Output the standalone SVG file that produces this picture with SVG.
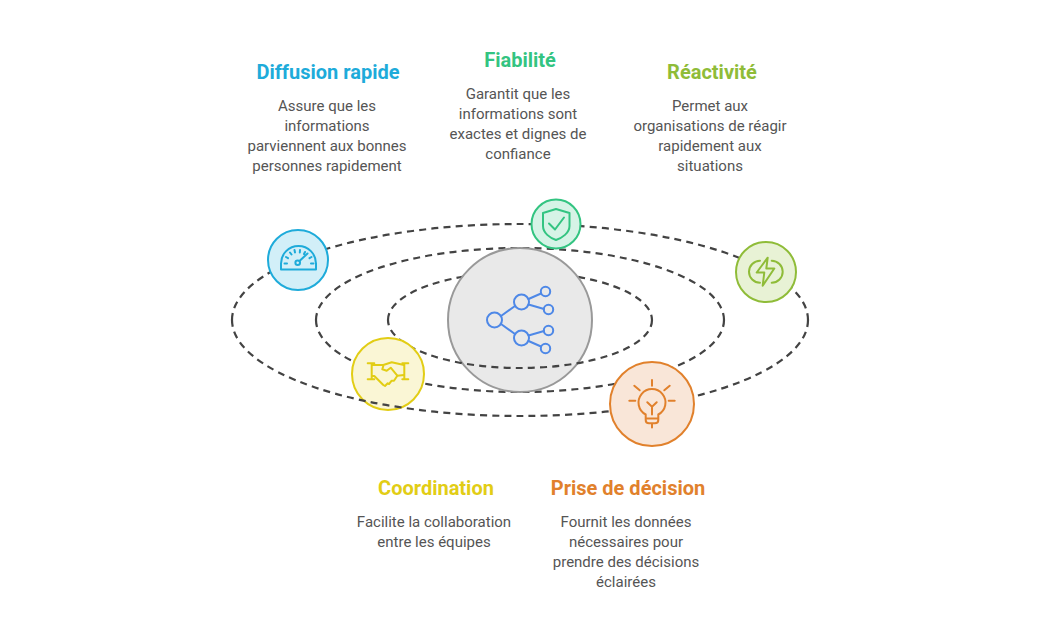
<svg xmlns="http://www.w3.org/2000/svg" width="1040" height="640" viewBox="0 0 1040 640">
<style>
text{font-family:Roboto,"Liberation Sans",sans-serif;text-anchor:middle}
.t{font-size:20px;font-weight:700}
.b{font-size:15px;fill:#555}
.c{fill:none;stroke:#434343;stroke-width:2.200;stroke-dasharray:7 5.200}
.i{fill:none;stroke-width:2;stroke-linecap:round;stroke-linejoin:round}
.n{stroke-width:2}
</style>
<rect width="1040" height="640" fill="#fff"/>
<g id="connectors-back">
<path class="c" d="M232 320A288 96 0 0 1 808 320"/>
<path class="c" d="M316 320A204 72 0 0 1 724 320"/>
<path class="c" d="M388 320A132 48 0 0 1 652 320"/>
<path class="c" d="M724 320A204 72 0 0 1 316 320"/>
</g>
<g id="node-center">
<circle cx="520" cy="320" r="72" fill="#e9e9e9" stroke="#999" stroke-width="2"/>
<g class="i" stroke="#4e88e7">
<circle cx="494.5" cy="320" r="7.5"/><circle cx="521.5" cy="302" r="7.5"/><circle cx="521.5" cy="338" r="7.5"/>
<circle cx="545.5" cy="291.5" r="4.7"/><circle cx="548.5" cy="309.5" r="4.7"/><circle cx="548.5" cy="330.5" r="4.7"/><circle cx="545.5" cy="348.5" r="4.7"/>
<path d="M501 316L515 306M501 324L515 334M528.500 299L541 293.500M528.500 304.500L544 309M528.500 335.500L544 331M528.500 341L541 346.500"/>
</g>
</g>
<g id="connectors-front">
<path class="c" d="M652 320A132 48 0 0 1 388 320"/>
</g>
<g id="node-coordination">
<circle class="n" cx="388" cy="374" r="36" fill="#faf6d5" stroke="#e2cd15"/>
<g class="i" stroke="#e2cd15">
<path d="M367.700 363.300H374.300M371.700 363.300V379.300M367.700 379.300H374.300M402.300 363.300H408.300M404.300 363.300V379.300M402.300 379.300H408.300"/>
<path d="M372 365H383.300L391.700 362.300L404 365M383.300 366L382.300 369.300L386.700 370.700L390.700 367.700L397.300 375.700"/>
<path d="M372 376H374.300L383.300 385L385 386L387.700 383.300L389 384L391.700 380.700H394L397.300 375.700L404 375"/>
</g>
</g>
<g id="connectors-outer-front">
<path class="c" d="M808 320A288 96 0 0 1 232 320"/>
</g>
<g id="node-diffusion">
<circle class="n" cx="298" cy="260" r="30" fill="#d2eff8" stroke="#1eabda"/>
<g class="i" stroke="#1eabda">
<path d="M281 269.500V263.500A17.500 17.500 0 0 1 316 263.500V269.500Z"/>
<circle cx="297.700" cy="262.700" r="2.300"/>
<path d="M299.500 261L307.500 253.500M284.500 263.500H287M311 263.500H313.500M286 257L288 258.200M309.500 258.200L311.500 257M290 252.500L291.500 254.500M294.500 250L295 252.500M300 250L299.800 252.500M305 252L304 254"/>
</g>
</g>
<g id="node-fiabilite">
<circle class="n" cx="556" cy="224" r="24.500" fill="#d6f3e6" stroke="#33c481"/>
<g class="i" stroke="#33c481">
<path d="M556 209L543 213V226C543 233 550 238 556 240C562 238 569.500 233 569.500 226V213Z"/>
<path d="M549 223.500L555 229.500L564 217.500"/>
</g>
</g>
<g id="node-reactivite">
<circle class="n" cx="766" cy="272" r="30" fill="#e8f2d5" stroke="#8fbc38"/>
<g class="i" stroke="#8fbc38">
<path d="M767.700 257.700L756.700 272.500H764.300L762.700 285.700L774.300 268.500H766.300Z"/>
<path d="M760 260.700A11 11 0 0 0 760 282.700M771.700 260.700A11 11 0 0 1 771.700 282.700"/>
</g>
</g>
<g id="node-decision">
<circle class="n" cx="652" cy="404" r="42" fill="#f9e6d8" stroke="#e1812c"/>
<g class="i" stroke="#e1812c">
<path d="M645.700 414.500A13.500 13.500 0 1 1 658.300 414.500V420C658.300 422 657 423.300 655 423.300H649C647 423.300 645.700 422 645.700 420ZM645.700 418.500H658.300M652 414.500V406.700M647.300 402.300L652 406.700L656.700 402.300M652 423.300V427.500"/>
<path d="M652 380V385.700M634.300 385.700L639.700 390.300M669.700 385.700L664.300 390.300M629.300 400.700H635.300M668.700 400.700H674.700"/>
</g>
</g>
<g id="label-diffusion">
<text class="t" x="328" y="79" fill="#1eabda">Diffusion rapide</text>
<text class="b" x="327" y="111">Assure que les</text><text class="b" x="327" y="131">informations</text><text class="b" x="327" y="151">parviennent aux bonnes</text><text class="b" x="327" y="171">personnes rapidement</text>
</g>
<g id="label-fiabilite">
<text class="t" x="520" y="67" fill="#33c481">Fiabilité</text>
<text class="b" x="518" y="99">Garantit que les</text><text class="b" x="518" y="119">informations sont</text><text class="b" x="518" y="139">exactes et dignes de</text><text class="b" x="518" y="159">confiance</text>
</g>
<g id="label-reactivite">
<text class="t" x="712" y="79" fill="#8fbc38">Réactivité</text>
<text class="b" x="710" y="111">Permet aux</text><text class="b" x="710" y="131">organisations de réagir</text><text class="b" x="710" y="151">rapidement aux</text><text class="b" x="710" y="171">situations</text>
</g>
<g id="label-coordination">
<text class="t" x="436" y="495" fill="#e2cd15">Coordination</text>
<text class="b" x="434" y="527">Facilite la collaboration</text><text class="b" x="434" y="547">entre les équipes</text>
</g>
<g id="label-decision">
<text class="t" x="628" y="495" fill="#e1812c">Prise de décision</text>
<text class="b" x="626" y="527">Fournit les données</text><text class="b" x="626" y="547">nécessaires pour</text><text class="b" x="626" y="567">prendre des décisions</text><text class="b" x="626" y="587">éclairées</text>
</g>
</svg>
